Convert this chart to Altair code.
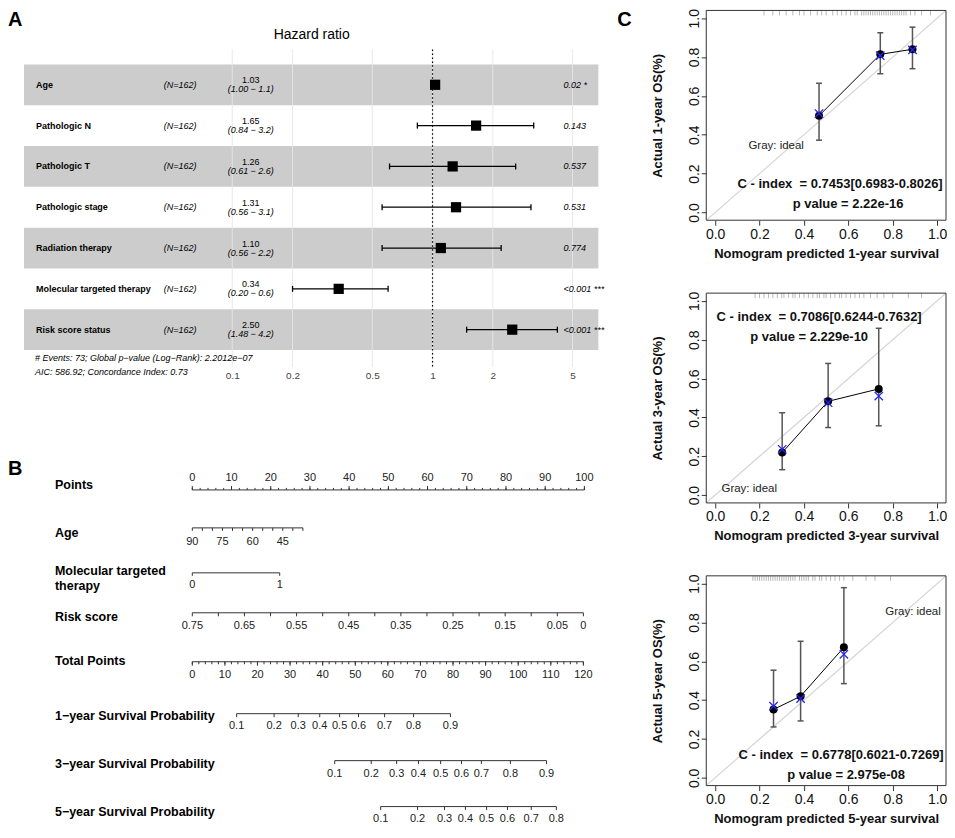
import altair as alt
import pandas as pd

FONT = "Liberation Sans"

# ---------------- Panel A : forest plot ----------------
a_vars = ["Age", "Pathologic N", "Pathologic T", "Pathologic stage",
          "Radiation therapy", "Molecular targeted therapy", "Risk score status"]
a_n = ["(N=162)"] * 7
a_hr = [1.03, 1.65, 1.26, 1.31, 1.10, 0.34, 2.50]
a_lo = [1.00, 0.84, 0.61, 0.56, 0.56, 0.20, 1.48]
a_hi = [1.055, 3.2, 2.6, 3.1, 2.2, 0.6, 4.2]
a_hr_txt = ["1.03", "1.65", "1.26", "1.31", "1.10", "0.34", "2.50"]
a_ci_txt = ["(1.00 − 1.1)", "(0.84 − 3.2)", "(0.61 − 2.6)", "(0.56 − 3.1)",
            "(0.56 − 2.2)", "(0.20 − 0.6)", "(1.48 − 4.2)"]
a_p_txt = ["0.02 *", "0.143", "0.537", "0.531", "0.774", "<0.001 ***", "<0.001 ***"]
a_shade = [1, 0, 1, 0, 1, 0, 1]
a_ticks = [0.1, 0.2, 0.5, 1, 2, 5]
a_ref = [1]
a_title = ["Hazard ratio"]
a_foot = ["# Events: 73; Global p−value (Log−Rank): 2.2012e−07",
          "AIC: 586.92; Concordance Index: 0.73"]

# ---------------- Panel B : nomogram ----------------
b_points_major = [0, 10, 20, 30, 40, 50, 60, 70, 80, 90, 100]
b_points_minor = list(range(0, 101, 2))
b_age_ticks = [90, 85, 80, 75, 70, 65, 60, 55, 50, 45, 40, 35]
b_age_labels = [90, 75, 60, 45]
b_mtt = [0, 1]
b_risk_ticks = [0.75, 0.70, 0.65, 0.60, 0.55, 0.50, 0.45, 0.40, 0.35, 0.30,
                0.25, 0.20, 0.15, 0.10, 0.05, 0.0]
b_risk_labels = [0.75, 0.65, 0.55, 0.45, 0.35, 0.25, 0.15, 0.05, 0.0]
b_risk_label_txt = ["0.75", "0.65", "0.55", "0.45", "0.35", "0.25", "0.15", "0.05", "0"]
b_total_major = [0, 10, 20, 30, 40, 50, 60, 70, 80, 90, 100, 110, 120]
b_total_minor = list(range(0, 121, 2))
# survival probabilities and their total-points positions
s1_prob = ["0.1", "0.2", "0.3", "0.4", "0.5", "0.6", "0.7", "0.8", "0.9"]
s1_tp = [13.6, 25.1, 32.5, 39.1, 45.2, 51.0, 59.0, 67.9, 79.2]
s3_prob = ["0.1", "0.2", "0.3", "0.4", "0.5", "0.6", "0.7", "0.8", "0.9"]
s3_tp = [43.7, 54.9, 62.7, 69.4, 76.2, 82.6, 88.7, 97.6, 108.7]
s5_prob = ["0.1", "0.2", "0.3", "0.4", "0.5", "0.6", "0.7", "0.8"]
s5_tp = [57.8, 69.1, 77.4, 83.8, 90.3, 96.7, 104.0, 111.7]

# ---------------- Panel C : calibration ----------------
c_ticks = [0.0, 0.2, 0.4, 0.6, 0.8, 1.0]
c_ideal = [-0.04, 1.04]
c_years = ["1", "3", "5"]
c_pred = [[0.468, 0.744, 0.889], [0.302, 0.509, 0.737], [0.263, 0.385, 0.580]]
c_obs = [[0.498, 0.814, 0.840], [0.219, 0.483, 0.547], [0.352, 0.420, 0.672]]
c_cor = [[0.509, 0.807, 0.837], [0.236, 0.476, 0.510], [0.369, 0.408, 0.636]]
c_lo = [[0.372, 0.714, 0.740], [0.131, 0.348, 0.357], [0.262, 0.293, 0.485]]
c_hi = [[0.665, 0.925, 0.954], [0.424, 0.678, 0.859], [0.554, 0.703, 0.979]]
c_rug = [
    [0.22, 0.26, 0.29, 0.32, 0.35, 0.38, 0.40, 0.43, 0.46, 0.48, 0.50, 0.53, 0.55,
     0.57, 0.59, 0.61, 0.63, 0.64, 0.66, 0.67, 0.68, 0.69, 0.70, 0.71, 0.72, 0.73,
     0.74, 0.75, 0.76, 0.77, 0.78, 0.79, 0.80, 0.81, 0.82, 0.83, 0.84, 0.85, 0.86,
     0.88, 0.90, 0.93, 0.97],
    [0.18, 0.20, 0.22, 0.24, 0.26, 0.28, 0.30, 0.31, 0.33, 0.35, 0.36, 0.38, 0.40,
     0.42, 0.44, 0.46, 0.47, 0.49, 0.50, 0.52, 0.54, 0.56, 0.57, 0.59, 0.61, 0.63,
     0.65, 0.67, 0.70, 0.73, 0.76, 0.80, 0.87, 0.93],
    [0.17, 0.18, 0.19, 0.20, 0.21, 0.22, 0.23, 0.24, 0.25, 0.26, 0.27, 0.28, 0.29,
     0.30, 0.31, 0.32, 0.33, 0.34, 0.35, 0.36, 0.38, 0.39, 0.40, 0.41, 0.42, 0.44,
     0.45, 0.47, 0.48, 0.50, 0.52, 0.54, 0.56, 0.58, 0.62, 0.68, 0.72, 0.79],
]
c_cindex = ["C - index \u00a0= 0.7453[0.6983-0.8026]",
            "C - index \u00a0= 0.7086[0.6244-0.7632]",
            "C - index \u00a0= 0.6778[0.6021-0.7269]"]
c_pval = ["p value = 2.22e-16", "p value = 2.229e-10", "p value = 2.975e-08"]
c_ideal_txt = "Gray: ideal"
# annotation pixel positions inside each panel: (gray), (cindex), (p)
c_txt_pos = [
    [(70, 136), (134, 174), (142, 194)],
    [(43, 196), (113, 24), (103, 44)],
    [(207, 36), (135, 179), (140, 199)],
]


def one_text(txt, x, y, **kw):
    return alt.Chart(pd.DataFrame({"t": [txt]})).mark_text(font=FONT, **kw).encode(
        x=alt.value(x), y=alt.value(y), text="t:N")


# ================= Panel A =================
WA, HA = 602, 357
df_a = pd.DataFrame({"var": a_vars, "n": a_n, "hr": a_hr, "lo": a_lo, "hi": a_hi,
                     "hrt": a_hr_txt, "cit": a_ci_txt, "pt": a_p_txt, "shade": a_shade})
xA = alt.Scale(type="log", domain=[0.007594, 7.635], nice=False)
yA = alt.Scale(domain=a_vars, range=[54, 340], paddingInner=0, paddingOuter=0)
AX_A = alt.Axis(values=a_ticks, format="~g", domain=False, ticks=False, tickSize=0,
                grid=False, labelFontSize=10, labelColor="#444", labelPadding=3,
                title=None, labelFont=FONT)
YA = alt.Y("var:N", scale=yA, axis=None)
baseA = alt.Chart(df_a)

shade = baseA.transform_filter("datum.shade == 1").mark_rect(color="#cccccc").encode(
    y=YA, x=alt.value(16), x2=alt.value(591))
grid = alt.Chart(pd.DataFrame({"t": a_ticks})).mark_rule(color="#e6e6e6", strokeWidth=0.9).encode(
    x=alt.X("t:Q", scale=xA, axis=AX_A), y=alt.value(39), y2=alt.value(357))
refl = alt.Chart(pd.DataFrame({"v": a_ref})).mark_rule(
    color="black", strokeWidth=1.2, strokeDash=[1.5, 2.5]).encode(
    x=alt.X("v:Q", scale=xA, axis=AX_A), y=alt.value(39), y2=alt.value(357))
ci = baseA.mark_rule(color="black", strokeWidth=1.3).encode(
    x=alt.X("lo:Q", scale=xA, axis=AX_A), x2="hi:Q", y=YA)
caps = baseA.transform_fold(["lo", "hi"], as_=["k", "v"]).mark_point(
    shape="M0,-1L0,1", size=36, filled=False, color="black", strokeWidth=1.3, opacity=1).encode(
    x=alt.X("v:Q", scale=xA, axis=AX_A), y=YA)
sq = baseA.mark_square(size=105, color="black", opacity=1).encode(
    x=alt.X("hr:Q", scale=xA, axis=AX_A), y=YA)
t_var = baseA.mark_text(align="left", baseline="middle", fontSize=9, fontWeight="bold",
                        font=FONT, color="black").encode(x=alt.value(28), y=YA, text="var:N")
t_n = baseA.mark_text(align="left", baseline="middle", fontSize=9, fontStyle="italic",
                      font=FONT, color="black").encode(x=alt.value(156), y=YA, text="n:N")
t_hr = baseA.mark_text(align="center", baseline="middle", fontSize=9, dy=-4.5,
                       font=FONT, color="black").encode(x=alt.value(243), y=YA, text="hrt:N")
t_ci = baseA.mark_text(align="center", baseline="middle", fontSize=9, dy=4.5, fontStyle="italic",
                       font=FONT, color="black").encode(x=alt.value(243), y=YA, text="cit:N")
t_p = baseA.mark_text(align="left", baseline="middle", fontSize=9, fontStyle="italic",
                      font=FONT, color="black").encode(x=alt.value(556), y=YA, text="pt:N")
t_title = one_text(a_title[0], 304, 25, fontSize=14, color="black", baseline="middle")
t_f1 = one_text(a_foot[0], 27, 348, fontSize=9, fontStyle="italic", align="left",
                baseline="middle", color="black")
t_f2 = one_text(a_foot[1], 27, 362, fontSize=9, fontStyle="italic", align="left",
                baseline="middle", color="black")
t_A = one_text("A", 0, 10, fontSize=20, fontWeight="bold", align="left", baseline="middle",
               color="black")

chartA = alt.layer(shade, grid, refl, ci, caps, sq, t_var, t_n, t_hr, t_ci, t_p,
                   t_title, t_f1, t_f2, t_A).properties(width=WA, height=HA)


# ================= Panel B =================
WB, HB = 602, 447


def sc(dom, rng):
    return alt.Scale(domain=dom, range=rng, nice=False, zero=False)


SC_PTS = sc([0, 100], [184.5, 577])
SC_AGE = sc([90, 35], [184.5, 295.2])
SC_MTT = sc([0, 1], [184.5, 272])
SC_RISK = sc([0.75, 0], [184.5, 576])
SC_TOT = sc([0, 120], [184.5, 576])


def nomo_row(names, name_ys, line_y, scale, tick_groups, lab_vals, lab_txt, lab_y):
    layers = []
    for nm, ny in zip(names, name_ys):
        layers.append(one_text(nm, 47, ny, align="left", baseline="middle", fontSize=12.5,
                               fontWeight="bold", color="black"))
    allv = [v for g in tick_groups for v in g[0]]
    layers.append(alt.Chart(pd.DataFrame({"a": [min(allv)], "b": [max(allv)]})).mark_rule(
        color="#333", strokeWidth=1).encode(
        x=alt.X("a:Q", scale=scale, axis=None), x2="b:Q", y=alt.value(line_y)))
    for vals, dy in tick_groups:
        layers.append(alt.Chart(pd.DataFrame({"v": vals})).mark_rule(
            color="#333", strokeWidth=1).encode(
            x=alt.X("v:Q", scale=scale, axis=None), y=alt.value(line_y),
            y2=alt.value(line_y + dy)))
    layers.append(alt.Chart(pd.DataFrame({"v": lab_vals, "s": lab_txt})).mark_text(
        baseline="middle", fontSize=11, font=FONT, color="#222").encode(
        x=alt.X("v:Q", scale=scale, axis=None), y=alt.value(lab_y), text="s:N"))
    return layers


b_layers = []
b_layers += nomo_row(["Points"], [108], 113, SC_PTS,
                     [(b_points_major, -4), (b_points_minor, -2)],
                     b_points_major, [str(v) for v in b_points_major], 101)
b_layers += nomo_row(["Age"], [156], 151, SC_AGE, [(b_age_ticks, 3)],
                     b_age_labels, [str(v) for v in b_age_labels], 165)
b_layers += nomo_row(["Molecular targeted", "therapy"], [194, 209], 196, SC_MTT,
                     [(b_mtt, 3)], b_mtt, [str(v) for v in b_mtt], 208)
b_layers += nomo_row(["Risk score"], [240], 236, SC_RISK, [(b_risk_ticks, 3.5)],
                     b_risk_labels, b_risk_label_txt, 249)
b_layers += nomo_row(["Total Points"], [284], 285, SC_TOT,
                     [(b_total_major, 4), (b_total_minor, 2.5)],
                     b_total_major, [str(v) for v in b_total_major], 298)
b_layers += nomo_row(["1−year Survival Probability"], [339], 337, SC_TOT,
                     [(s1_tp, 3.5)], s1_tp, s1_prob, 349)
b_layers += nomo_row(["3−year Survival Probability"], [387], 384, SC_TOT,
                     [(s3_tp, 3.5)], s3_tp, s3_prob, 397)
b_layers += nomo_row(["5−year Survival Probability"], [435], 430, SC_TOT,
                     [(s5_tp, 3.5)], s5_tp, s5_prob, 442)
b_layers.append(one_text("B", 0, 92, fontSize=20, fontWeight="bold", align="left",
                         baseline="middle", color="black"))

chartB = alt.layer(*b_layers).resolve_scale(x="independent").properties(width=WB, height=HB)


# ================= Panel C =================
WC, HC = 240, 210


def calib(i):
    yr = c_years[i]
    sx = alt.Scale(domain=[-0.04, 1.04], nice=False, zero=False)
    sy = alt.Scale(domain=[-0.04, 1.04], nice=False, zero=False)
    axx = alt.Axis(values=c_ticks, format=".1f", domain=False, grid=False, tickSize=5,
                   tickColor="#333", tickWidth=1, labelFontSize=14, labelColor="#111",
                   labelPadding=2, labelFlush=False, labelFont=FONT,
                   title=f"Nomogram predicted {yr}-year survival", titleFontSize=13,
                   titleFontWeight="bold", titleColor="#111", titleFont=FONT, titlePadding=6)
    axy = alt.Axis(values=c_ticks, format=".1f", domain=False, grid=False, tickSize=5,
                   tickColor="#333", tickWidth=1, labelFontSize=14, labelColor="#111",
                   labelPadding=3, labelFlush=False, labelFont=FONT, labelAngle=270,
                   labelAlign="center", labelBaseline="alphabetic",
                   title=f"Actual {yr}-year OS(%)", titleFontSize=13,
                   titleFontWeight="bold", titleColor="#111", titleFont=FONT, titlePadding=23)
    df = pd.DataFrame({"pred": c_pred[i], "obs": c_obs[i], "cor": c_cor[i],
                       "lo": c_lo[i], "hi": c_hi[i]})
    X = alt.X("pred:Q", scale=sx, axis=axx)
    base = alt.Chart(df)
    ideal = alt.Chart(pd.DataFrame({"x": c_ideal, "y": c_ideal})).mark_line(
        color="#d6d6d6", strokeWidth=1.2, clip=True).encode(
        x=alt.X("x:Q", scale=sx, axis=axx), y=alt.Y("y:Q", scale=sy, axis=axy))
    rug = alt.Chart(pd.DataFrame({"r": c_rug[i]})).mark_rule(
        color="#8a8a8a", strokeWidth=0.6).encode(
        x=alt.X("r:Q", scale=sx, axis=axx), y=alt.value(0), y2=alt.value(5))
    err = base.mark_rule(color="#555", strokeWidth=1.5).encode(
        x=X, y=alt.Y("lo:Q", scale=sy, axis=axy), y2="hi:Q")
    caps = base.transform_fold(["lo", "hi"], as_=["k", "v"]).mark_point(
        shape="M-1,0L1,0", size=36, filled=False, color="#555", strokeWidth=1.5,
        opacity=1).encode(x=X, y=alt.Y("v:Q", scale=sy, axis=axy))
    line = base.mark_line(color="black", strokeWidth=1).encode(
        x=X, y=alt.Y("obs:Q", scale=sy, axis=axy))
    dots = base.mark_circle(size=64, color="black", opacity=1).encode(
        x=X, y=alt.Y("obs:Q", scale=sy, axis=axy))
    crosses = base.mark_point(shape="M-1,-1L1,1M-1,1L1,-1", size=70, filled=False,
                              color="#2424ff", strokeWidth=1.3, opacity=1).encode(
        x=X, y=alt.Y("cor:Q", scale=sy, axis=axy))
    box = alt.Chart(pd.DataFrame({"b": [0]})).mark_rect(
        fillOpacity=0, stroke="#333", strokeWidth=1).encode(
        x=alt.value(0), x2=alt.value(WC), y=alt.value(0), y2=alt.value(HC))
    (gx, gy), (cx, cy), (px, py) = c_txt_pos[i]
    t_g = one_text(c_ideal_txt, gx, gy, fontSize=11.5, color="#222", baseline="middle")
    t_c = one_text(c_cindex[i], cx, cy, fontSize=13, fontWeight="bold", color="#111",
                   baseline="middle")
    t_pv = one_text(c_pval[i], px, py, fontSize=13, fontWeight="bold", color="#111",
                    baseline="middle")
    layers = [ideal, rug, err, caps, line, dots, crosses, box, t_g, t_c, t_pv]
    if i == 0:
        layers.append(one_text("C", -89, 10, fontSize=20, fontWeight="bold", align="left",
                               baseline="middle", color="black"))
    return alt.layer(*layers).properties(width=WC, height=HC)


c1, c2, c3 = calib(0), calib(1), calib(2)
right = alt.vconcat(c1, c2, c3, spacing=73, bounds="flush")
left = alt.vconcat(chartA, chartB, spacing=10, bounds="flush")

chart = alt.hconcat(left, right, spacing=8).properties(
    padding=0).configure(font=FONT).configure_view(strokeWidth=0)

chart.save("out.html", embed_options={"renderer": "svg", "actions": False})
